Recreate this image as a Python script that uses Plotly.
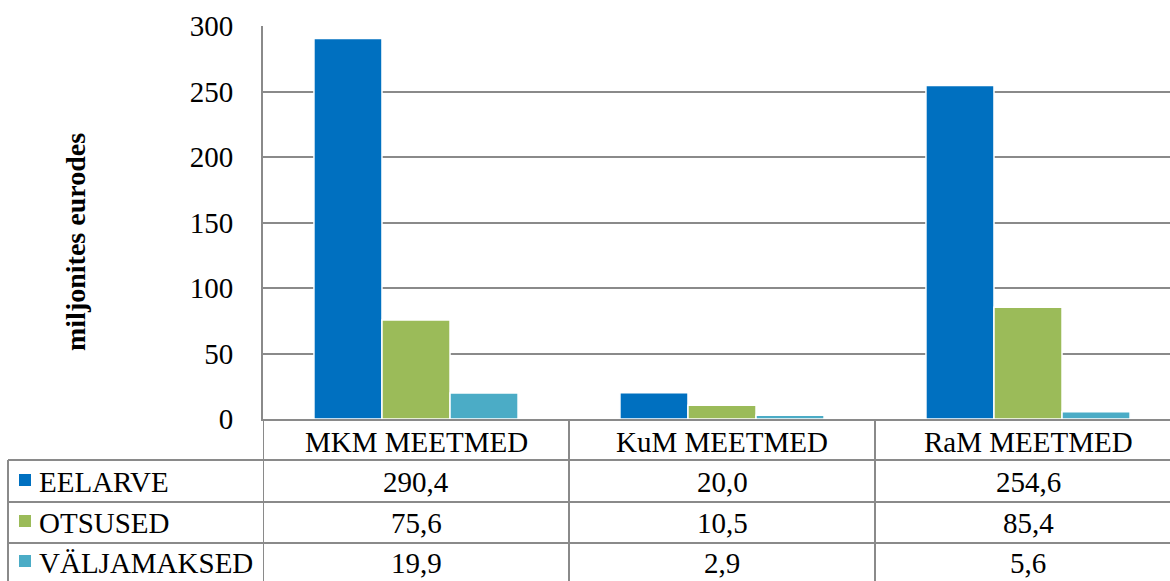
import plotly.graph_objects as go

categories = ["MKM MEETMED", "KuM MEETMED", "RaM MEETMED"]
series_names = ["EELARVE", "OTSUSED", "VÄLJAMAKSED"]
eelarve = [290.4, 20.0, 254.6]
otsused = [75.6, 10.5, 85.4]
valjamaksed = [19.9, 2.9, 5.6]
colors = ["#0070C0", "#9BBB59", "#4BACC6"]
y_ticks = [0, 50, 100, 150, 200, 250, 300]

W, H = 1170, 581
FONT = "Liberation Serif"
GRAY = "#8a8a8a"

def py(px):  # pixel-from-top -> paper y
    return (H - px) / H

def pxx(px):
    return px / W

series = [eelarve, otsused, valjamaksed]
fig = go.Figure()
for name, vals, col in zip(series_names, series, colors):
    fig.add_trace(go.Bar(
        x=categories, y=vals, name=name,
        marker=dict(color=col, line=dict(color="white", width=1.5)),
        showlegend=False,
    ))

x_right = -0.5 + (1170 - 263) / 306
fig.update_layout(
    width=W, height=H,
    margin=dict(l=0, r=0, t=0, b=0, pad=0),
    paper_bgcolor="white", plot_bgcolor="white",
    barmode="group", bargap=0.333, bargroupgap=0.0,
    font=dict(family=FONT, size=29, color="black"),
    xaxis=dict(
        domain=[pxx(263), 1], range=[-0.5, x_right], type="category",
        automargin=False,
        showline=True, linecolor=GRAY, linewidth=2,
        showgrid=False, ticks="", showticklabels=False,
    ),
    yaxis=dict(
        domain=[py(419), py(26)], range=[0, 300],
        automargin=False,
        tickvals=y_ticks, ticktext=[str(v) for v in y_ticks],
        showline=True, linecolor=GRAY, linewidth=2,
        showgrid=True, gridcolor=GRAY, gridwidth=2,
        zeroline=False, ticks="",
        tickfont=dict(family=FONT, size=29, color="black"),
        ticklabelstandoff=22,
    ),
)

shapes = []
# vertical line at plot left continuing through table
shapes.append(dict(type="line", xref="x", yref="paper", x0=-0.5, x1=-0.5,
                   y0=py(581), y1=py(419), line=dict(color=GRAY, width=2)))
# column separators
for xv in [0.5, 1.5]:
    shapes.append(dict(type="line", xref="x", yref="paper", x0=xv, x1=xv,
                       y0=py(581), y1=py(420), line=dict(color=GRAY, width=2)))
# left border of legend column
shapes.append(dict(type="line", xref="paper", yref="paper", x0=pxx(8), x1=pxx(8),
                   y0=py(581), y1=py(460), line=dict(color=GRAY, width=2)))
# row lines
for ypx in [460, 502, 543]:
    shapes.append(dict(type="line", xref="paper", yref="paper", x0=pxx(8), x1=1,
                       y0=py(ypx), y1=py(ypx), line=dict(color=GRAY, width=2)))

annotations = []
# category header row of the data table
for c in categories:
    annotations.append(dict(xref="x", yref="paper", x=c, y=py(442),
                            text=c, showarrow=False, xanchor="center", yanchor="middle",
                            font=dict(family=FONT, size=29, color="black")))

row_centers = [482, 523, 563]
for i, (name, vals, col) in enumerate(zip(series_names, series, colors)):
    yc = row_centers[i]
    shapes.append(dict(type="rect", xref="paper", yref="paper",
                       x0=pxx(19), x1=pxx(31), y0=py(yc + 4), y1=py(yc - 8),
                       fillcolor=col, line=dict(width=0)))
    annotations.append(dict(xref="paper", yref="paper", x=pxx(37), y=py(yc),
                            text=name, showarrow=False, xanchor="left", yanchor="middle",
                            font=dict(family=FONT, size=29, color="black")))
    for j, v in enumerate(vals):
        annotations.append(dict(xref="x", yref="paper", x=categories[j], y=py(yc),
                                text=f"{v:.1f}".replace(".", ","), showarrow=False,
                                xanchor="center", yanchor="middle",
                                font=dict(family=FONT, size=29, color="black")))

annotations.append(dict(xref="paper", yref="paper", x=pxx(75), y=py(242),
                        text="<b>miljonites eurodes</b>", textangle=-90, showarrow=False,
                        xanchor="center", yanchor="middle",
                        font=dict(family=FONT, size=28, color="black")))

fig.update_layout(shapes=shapes, annotations=annotations)
fig.write_html("out.html")
